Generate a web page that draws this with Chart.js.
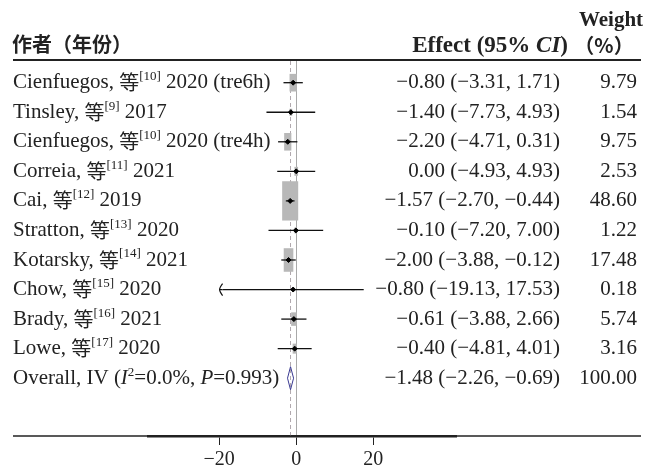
<!DOCTYPE html>
<html>
<head>
<meta charset="utf-8">
<script src="https://cdn.jsdelivr.net/npm/chart.js@4.4.1/dist/chart.umd.min.js"></script>
<style>
	html, body { margin: 0; padding: 0; background: #fff; }
	#wrap { width: 655px; height: 471px; }
</style>
</head>
<body>
<div id="wrap"><canvas id="forestChart"></canvas></div>
<script>
// study data
var names = ['Cienfuegos', 'Tinsley', 'Cienfuegos', 'Correia', 'Cai', 'Stratton', 'Kotarsky', 'Chow', 'Brady', 'Lowe'];
var refs = ['10', '9', '10', '11', '12', '13', '14', '15', '16', '17'];
var years = ['2020 (tre6h)', '2017', '2020 (tre4h)', '2021', '2019', '2020', '2021', '2020', '2021', '2020'];
var effects = [-0.80, -1.40, -2.20, 0.00, -1.57, -0.10, -2.00, -0.80, -0.61, -0.40];
var lower = [-3.31, -7.73, -4.71, -4.93, -2.70, -7.20, -3.88, -19.13, -3.88, -4.81];
var upper = [1.71, 4.93, 0.31, 4.93, -0.44, 7.00, -0.12, 17.53, 2.66, 4.01];
var weights = [9.79, 1.54, 9.75, 2.53, 48.60, 1.22, 17.48, 0.18, 5.74, 3.16];
var overallEffect = -1.48;
var overallCI = [-2.26, -0.69];
var overallWeight = 100.00;
var xTicks = [-20, 0, 20];

var SERIF = '"Liberation Serif", "Times New Roman", "Noto Sans CJK SC", serif';
var CJK = '"Noto Sans CJK SC", sans-serif';
var overallRow = names.length + 1;
var yMin = 0.266, yMax = 12.956;

function fmt(v) {
	return v.toFixed(2).replace('-', '\u2212');
}

function partsWidth(ctx, parts) {
	var w = 0;
	parts.forEach(function(p) { ctx.font = p.font; w += ctx.measureText(p.t).width; });
	return w;
}

function drawParts(ctx, x, y, parts) {
	parts.forEach(function(p) {
		ctx.font = p.font;
		ctx.fillText(p.t, x, y + (p.dy || 0));
		x += ctx.measureText(p.t).width;
	});
}

var ciSets = names.map(function(n, i) {
	return {
		data: [{ x: lower[i], y: i + 1 }, { x: upper[i], y: i + 1 }],
		showLine: true,
		borderColor: '#111',
		borderWidth: 1.3,
		pointRadius: 0,
		order: 1
	};
});

var forestPlugin = {
	id: 'forest',
	beforeDatasetsDraw: function(chart) {
		var ctx = chart.ctx, xs = chart.scales.x, ys = chart.scales.y;
		ctx.save();
		// dashed overall line
		ctx.strokeStyle = '#b0a8ad';
		ctx.lineWidth = 1;
		ctx.setLineDash([4, 3]);
		ctx.beginPath();
		ctx.moveTo(xs.getPixelForValue(overallEffect), ys.getPixelForValue(yMin));
		ctx.lineTo(xs.getPixelForValue(overallEffect), ys.getPixelForValue(yMax));
		ctx.stroke();
		ctx.setLineDash([]);
		// weight boxes
		ctx.fillStyle = '#b8b8b8';
		effects.forEach(function(e, i) {
			var w = 2.3 * Math.sqrt(weights[i]);
			var h = w * 2.45;
			var cx = xs.getPixelForValue(e), cy = ys.getPixelForValue(i + 1);
			ctx.fillRect(cx - w / 2, cy - h / 2, w, h);
		});
		ctx.restore();
	},
	afterDatasetsDraw: function(chart) {
		var ctx = chart.ctx, xs = chart.scales.x, ys = chart.scales.y;
		// arrow where CI is cut (Chow)
		var ax = xs.getPixelForValue(lower[7]) - 3, ay = ys.getPixelForValue(8);
		ctx.save();
		ctx.strokeStyle = '#111';
		ctx.lineWidth = 1.2;
		ctx.beginPath();
		ctx.moveTo(ax, ay);
		ctx.lineTo(ax + 3, ay);
		ctx.moveTo(ax + 3, ay - 6);
		ctx.quadraticCurveTo(ax, ay - 2, ax, ay);
		ctx.quadraticCurveTo(ax, ay + 2, ax + 3, ay + 6);
		ctx.stroke();
		ctx.restore();
	},
	afterDraw: function(chart) {
		var ctx = chart.ctx, ys = chart.scales.y;
		ctx.save();
		ctx.strokeStyle = '#222';
		ctx.lineWidth = 2;
		ctx.beginPath();
		ctx.moveTo(13, 60); ctx.lineTo(641, 60);
		ctx.stroke();
		ctx.lineWidth = 1.5;
		ctx.beginPath();
		ctx.moveTo(13, 436); ctx.lineTo(641, 436);
		ctx.stroke();

		ctx.fillStyle = '#222';
		ctx.textBaseline = 'middle';
		// headers
		ctx.textAlign = 'left';
		ctx.font = 'bold 20px ' + CJK;
		ctx.fillText('作者（年份）', 12, 44);
		var eParts = [
			{ t: 'Effect (95% ', font: 'bold 23px ' + SERIF },
			{ t: 'CI', font: 'italic bold 23px ' + SERIF },
			{ t: ')', font: 'bold 23px ' + SERIF }
		];
		drawParts(ctx, 568 - partsWidth(ctx, eParts), 46, eParts);
		ctx.textAlign = 'center';
		ctx.font = 'bold 21px ' + SERIF;
		ctx.fillText('Weight', 611, 21);
		ctx.font = 'bold 20px ' + CJK;
		ctx.fillText('（%）', 604, 45);

		// study rows
		var body = '21px ' + SERIF, sup = '13px ' + SERIF;
		names.forEach(function(n, i) {
			var y = ys.getPixelForValue(i + 1);
			ctx.textAlign = 'left';
			drawParts(ctx, 13, y, [
				{ t: n + ', ', font: body },
				{ t: '等', font: '20px ' + CJK },
				{ t: '[' + refs[i] + ']', font: sup, dy: -6 },
				{ t: ' ' + years[i], font: body }
			]);
			ctx.font = body;
			ctx.textAlign = 'right';
			ctx.fillText(fmt(effects[i]) + ' (' + fmt(lower[i]) + ', ' + fmt(upper[i]) + ')', 560, y);
			ctx.fillText(weights[i].toFixed(2), 637, y);
		});
		var oy = ys.getPixelForValue(overallRow);
		ctx.textAlign = 'left';
		drawParts(ctx, 13, oy, [
			{ t: 'Overall, IV (', font: body },
			{ t: 'I', font: 'italic ' + body },
			{ t: '2', font: sup, dy: -6 },
			{ t: '=0.0%, ', font: body },
			{ t: 'P', font: 'italic ' + body },
			{ t: '=0.993)', font: body }
		]);
		ctx.font = body;
		ctx.textAlign = 'right';
		ctx.fillText(fmt(overallEffect) + ' (' + fmt(overallCI[0]) + ', ' + fmt(overallCI[1]) + ')', 560, oy);
		ctx.fillText(overallWeight.toFixed(2), 637, oy);
		ctx.restore();
	}
};

var datasets = ciSets.concat([
	{
		data: effects.map(function(e, i) { return { x: e, y: i + 1 }; }),
		pointStyle: 'rectRot',
		pointRadius: 2.5,
		backgroundColor: '#000',
		borderColor: '#000',
		borderWidth: 1,
		order: 0
	},
	{
		data: [
			{ x: overallCI[0], y: overallRow },
			{ x: overallEffect, y: overallRow - 0.39 },
			{ x: overallCI[1], y: overallRow },
			{ x: overallEffect, y: overallRow + 0.39 },
			{ x: overallCI[0], y: overallRow }
		],
		showLine: true,
		borderColor: '#3a3a92',
		borderWidth: 1,
		pointRadius: 0,
		order: 2
	}
]);

new Chart(document.getElementById('forestChart'), {
	type: 'scatter',
	data: { datasets: datasets },
	options: {
		responsive: true,
		maintainAspectRatio: false,
		animation: false,
		layout: { padding: { left: 148, right: 199, top: 61, bottom: 0 } },
		plugins: { legend: { display: false }, tooltip: { enabled: false } },
		scales: {
			x: {
				type: 'linear',
				min: -38.5,
				max: 41.5,
				afterBuildTicks: function(axis) {
					axis.ticks = xTicks.map(function(v) { return { value: v }; });
				},
				afterFit: function(axis) { axis.height = 35; },
				grid: {
					drawOnChartArea: true,
					color: function(c) { return c.tick && c.tick.value === 0 ? '#a9a9a9' : 'rgba(0,0,0,0)'; },
					tickColor: '#222',
					tickLength: 9,
					lineWidth: 1
				},
				border: { display: true, color: '#222', width: 2.5 },
				ticks: {
					autoSkip: false,
					maxRotation: 0,
					padding: 3,
					color: '#222',
					font: { family: SERIF, size: 20 },
					callback: function(v) { return String(v).replace('-', '\u2212'); }
				}
			},
			y: {
				type: 'linear',
				display: false,
				reverse: true,
				min: yMin,
				max: yMax
			}
		}
	},
	plugins: [forestPlugin]
});
</script>
</body>
</html>
